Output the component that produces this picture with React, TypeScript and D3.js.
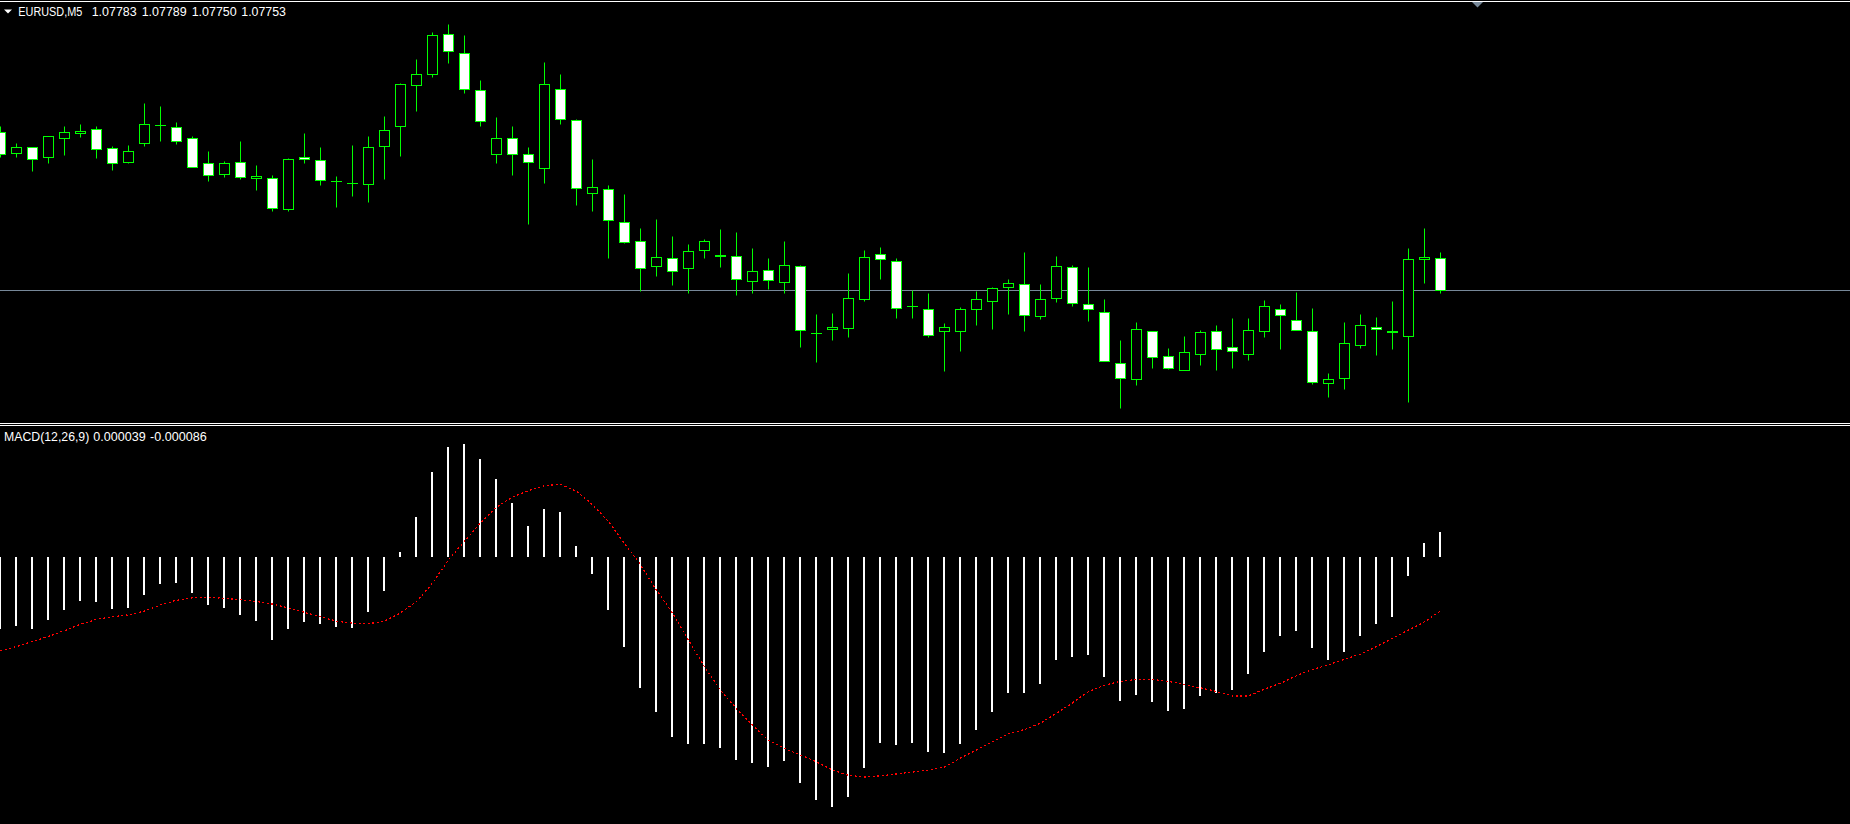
import React, { useEffect } from 'react';
import * as d3 from 'd3';

const W = 1850;
const H = 824;

const SYMBOL = 'EURUSD,M5';
const OHLC_LABELS = ['1.07783', '1.07789', '1.07750', '1.07753'];
const MACD_TITLE = 'MACD(12,26,9)';
const MACD_LABELS = ['0.000039', '-0.000086'];
const BID = 1.07753;

const open = [1.07901, 1.07882, 1.07887, 1.07878, 1.07896, 1.07900, 1.07904, 1.07886, 1.07873, 1.07891,
  1.07908, 1.07906, 1.07896, 1.07872, 1.07862, 1.07873, 1.07858, 1.07858, 1.07829, 1.07878,
  1.07875, 1.07855, 1.07854, 1.07853, 1.07888, 1.07907, 1.07945, 1.07956, 1.07993, 1.07975,
  1.07941, 1.07881, 1.07896, 1.07881, 1.07868, 1.07942, 1.07913, 1.07844, 1.07848, 1.07817,
  1.07799, 1.07776, 1.07783, 1.07774, 1.07791, 1.07786, 1.07785, 1.07762, 1.07772, 1.07761,
  1.07776, 1.07713, 1.07717, 1.07718, 1.07745, 1.07787, 1.07780, 1.07738, 1.07735, 1.07715,
  1.07715, 1.07735, 1.07743, 1.07756, 1.07759, 1.07729, 1.07746, 1.07775, 1.07740, 1.07733,
  1.07685, 1.07670, 1.07715, 1.07691, 1.07678, 1.07693, 1.07715, 1.07700, 1.07693, 1.07715,
  1.07735, 1.07725, 1.07715, 1.07666, 1.07671, 1.07702, 1.07719, 1.07715, 1.07710, 1.07782, 1.07783];
const high = [1.07907, 1.07891, 1.07887, 1.07898, 1.07907, 1.07909, 1.07907, 1.07888, 1.07889, 1.07929,
  1.07926, 1.07911, 1.07898, 1.07884, 1.07874, 1.07893, 1.07870, 1.07861, 1.07877, 1.07900,
  1.07887, 1.07860, 1.07889, 1.07898, 1.07916, 1.07947, 1.07970, 1.07995, 1.08003, 1.07992,
  1.07950, 1.07915, 1.07907, 1.07887, 1.07967, 1.07956, 1.07914, 1.07876, 1.07852, 1.07843,
  1.07811, 1.07820, 1.07804, 1.07796, 1.07801, 1.07810, 1.07808, 1.07793, 1.07783, 1.07799,
  1.07777, 1.07731, 1.07732, 1.07769, 1.07791, 1.07794, 1.07783, 1.07753, 1.07750, 1.07722,
  1.07737, 1.07752, 1.07756, 1.07764, 1.07789, 1.07759, 1.07785, 1.07777, 1.07775, 1.07745,
  1.07706, 1.07723, 1.07715, 1.07699, 1.07710, 1.07716, 1.07720, 1.07727, 1.07727, 1.07744,
  1.07740, 1.07751, 1.07736, 1.07675, 1.07723, 1.07731, 1.07728, 1.07743, 1.07793, 1.07811, 1.07789];
const low = [1.07878, 1.07878, 1.07865, 1.07872, 1.07880, 1.07897, 1.07877, 1.07866, 1.07872, 1.07888,
  1.07893, 1.07890, 1.07869, 1.07855, 1.07859, 1.07857, 1.07847, 1.07827, 1.07827, 1.07872,
  1.07852, 1.07831, 1.07841, 1.07836, 1.07857, 1.07879, 1.07921, 1.07953, 1.07966, 1.07938,
  1.07907, 1.07872, 1.07861, 1.07815, 1.07854, 1.07909, 1.07833, 1.07827, 1.07783, 1.07797,
  1.07752, 1.07766, 1.07758, 1.07750, 1.07783, 1.07775, 1.07749, 1.07750, 1.07754, 1.07750,
  1.07700, 1.07686, 1.07706, 1.07709, 1.07743, 1.07764, 1.07727, 1.07727, 1.07709, 1.07677,
  1.07696, 1.07720, 1.07717, 1.07731, 1.07715, 1.07726, 1.07742, 1.07738, 1.07724, 1.07687,
  1.07643, 1.07664, 1.07680, 1.07679, 1.07678, 1.07683, 1.07678, 1.07680, 1.07688, 1.07709,
  1.07698, 1.07716, 1.07665, 1.07653, 1.07660, 1.07699, 1.07692, 1.07698, 1.07648, 1.07760, 1.07750];
const close = [1.07881, 1.07887, 1.07876, 1.07898, 1.07901, 1.07902, 1.07885, 1.07872, 1.07884, 1.07909,
  1.07908, 1.07893, 1.07869, 1.07861, 1.07872, 1.07859, 1.07860, 1.07830, 1.07876, 1.07876,
  1.07856, 1.07855, 1.07854, 1.07887, 1.07903, 1.07946, 1.07956, 1.07992, 1.07977, 1.07942,
  1.07912, 1.07896, 1.07881, 1.07873, 1.07946, 1.07914, 1.07849, 1.07850, 1.07819, 1.07798,
  1.07774, 1.07784, 1.07771, 1.07790, 1.07799, 1.07785, 1.07764, 1.07771, 1.07763, 1.07777,
  1.07716, 1.07713, 1.07719, 1.07746, 1.07784, 1.07782, 1.07736, 1.07738, 1.07711, 1.07719,
  1.07735, 1.07745, 1.07755, 1.07760, 1.07730, 1.07745, 1.07776, 1.07741, 1.07735, 1.07687,
  1.07671, 1.07717, 1.07690, 1.07680, 1.07695, 1.07714, 1.07698, 1.07696, 1.07716, 1.07738,
  1.07730, 1.07716, 1.07667, 1.07670, 1.07704, 1.07720, 1.07717, 1.07714, 1.07782, 1.07784, 1.07753];

const macdMain = [-114e-6, -109e-6, -114e-6, -100e-6, -84e-6, -70e-6, -71e-6, -82e-6, -81e-6, -60e-6,
  -43e-6, -41e-6, -57e-6, -76e-6, -81e-6, -93e-6, -101e-6, -131e-6, -115e-6, -103e-6,
  -107e-6, -111e-6, -112e-6, -87e-6, -54e-6, 7e-6, 63e-6, 133e-6, 173e-6, 177e-6,
  154e-6, 123e-6, 85e-6, 49e-6, 75e-6, 71e-6, 17e-6, -27e-6, -84e-6, -142e-6,
  -207e-6, -246e-6, -284e-6, -296e-6, -295e-6, -302e-6, -321e-6, -325e-6, -332e-6, -322e-6,
  -357e-6, -384e-6, -395e-6, -379e-6, -333e-6, -294e-6, -297e-6, -294e-6, -308e-6, -310e-6,
  -295e-6, -273e-6, -246e-6, -216e-6, -215e-6, -201e-6, -163e-6, -158e-6, -156e-6, -190e-6,
  -228e-6, -218e-6, -229e-6, -243e-6, -240e-6, -220e-6, -215e-6, -210e-6, -186e-6, -150e-6,
  -126e-6, -117e-6, -145e-6, -164e-6, -150e-6, -126e-6, -107e-6, -95e-6, -30e-6, 22e-6, 39e-6];
const macdSignal = [-149e-6, -142e-6, -134e-6, -126e-6, -117e-6, -107e-6, -99e-6, -95e-6, -92e-6, -86e-6,
  -76e-6, -69e-6, -65e-6, -64e-6, -66e-6, -68e-6, -71e-6, -75e-6, -81e-6, -88e-6,
  -95e-6, -102e-6, -105e-6, -106e-6, -102e-6, -89e-6, -71e-6, -42e-6, -5e-6, 24e-6,
  53e-6, 78e-6, 94e-6, 104e-6, 112e-6, 114e-6, 103e-6, 82e-6, 55e-6, 21e-6,
  -13e-6, -53e-6, -89e-6, -132e-6, -174e-6, -211e-6, -240e-6, -266e-6, -290e-6, -303e-6,
  -313e-6, -324e-6, -337e-6, -345e-6, -348e-6, -346e-6, -343e-6, -340e-6, -337e-6, -332e-6,
  -318e-6, -305e-6, -292e-6, -279e-6, -273e-6, -263e-6, -247e-6, -231e-6, -213e-6, -203e-6,
  -197e-6, -194e-6, -194e-6, -197e-6, -202e-6, -207e-6, -213e-6, -220e-6, -220e-6, -209e-6,
  -200e-6, -188e-6, -178e-6, -171e-6, -162e-6, -154e-6, -142e-6, -129e-6, -116e-6, -103e-6, -86e-6];

const GREEN = '#00ff00';
const SLATE = '#778899';
const FONT = '"Liberation Sans", Arial, sans-serif';

export default function App() {
  useEffect(() => {
    document.body.style.margin = '0';
    document.body.style.overflow = 'hidden';
    document.body.style.background = '#000';
  }, []);

  const n = open.length;
  const x = d3.scaleLinear().domain([0, n - 1]).range([0.5, 16 * (n - 1) + 0.5]);
  const y = d3.scaleLinear().domain([1.076295, 1.080223]).range([422, 3]);
  const ym = d3.scaleLinear().domain([-0.000422, 0.000206]).range([824, 426]);
  const py = (p: number) => Math.round(y(p)) + 0.5;

  const signalPath = d3
    .line<number>()
    .x((_, i) => x(i))
    .y((v) => ym(v))(macdSignal) || '';

  const zeroY = Math.round(ym(0));

  return (
    <svg width={W} height={H} style={{ position: 'absolute', left: 0, top: 0, background: '#000' }}>
      <rect x={0} y={0} width={W} height={H} fill="#000" />
      {/* top border */}
      <line x1={0} x2={W} y1={1.5} y2={1.5} stroke="#fff" strokeWidth={1} />
      {/* bid line */}
      <line x1={0} x2={W} y1={py(BID)} y2={py(BID)} stroke={SLATE} strokeWidth={1} />
      {/* shift marker */}
      <polygon points="1472,2 1483,2 1477.5,7.5" fill={SLATE} />

      {/* candles */}
      {open.map((o, i) => {
        const c = close[i];
        const cx = x(i);
        const top = py(Math.max(o, c));
        const bot = py(Math.min(o, c));
        const bear = c < o;
        return (
          <g key={i}>
            <line x1={cx} x2={cx} y1={py(high[i])} y2={py(low[i])} stroke={GREEN} strokeWidth={1} />
            {bot - top < 1 ? (
              <line x1={cx - 5.5} x2={cx + 5.5} y1={top} y2={top} stroke={GREEN} strokeWidth={1} />
            ) : (
              <rect x={cx - 5} y={top} width={10} height={bot - top} fill={bear ? '#fff' : '#000'} stroke={GREEN} strokeWidth={1} />
            )}
          </g>
        );
      })}

      {/* separators */}
      <line x1={0} x2={W} y1={423.5} y2={423.5} stroke="#fff" strokeWidth={1} />
      <line x1={0} x2={W} y1={425.5} y2={425.5} stroke="#fff" strokeWidth={1} />

      {/* MACD histogram */}
      {macdMain.map((v, i) => {
        const yv = Math.round(ym(v));
        const y0 = Math.min(yv, zeroY);
        const h = Math.abs(yv - zeroY);
        return <rect key={i} x={x(i) - 1.5} y={y0} width={2} height={Math.max(h, 1)} fill="#fff" />;
      })}
      {/* signal */}
      <path d={signalPath} fill="none" stroke="#ff0000" strokeWidth={1.2} strokeDasharray="2 2.5" shapeRendering="crispEdges" />

      {/* labels */}
      <polygon points="4,9.5 12,9.5 8,13.5" fill="#fff" />
      <g fill="#fff" fontFamily={FONT} fontSize={12.5}>
        <text x={18.3} y={16} textLength={64} lengthAdjust="spacingAndGlyphs">{SYMBOL}</text>
        <text x={91.7} y={16} textLength={45} lengthAdjust="spacingAndGlyphs">{OHLC_LABELS[0]}</text>
        <text x={141.7} y={16} textLength={45} lengthAdjust="spacingAndGlyphs">{OHLC_LABELS[1]}</text>
        <text x={191.7} y={16} textLength={45} lengthAdjust="spacingAndGlyphs">{OHLC_LABELS[2]}</text>
        <text x={241.3} y={16} textLength={44.7} lengthAdjust="spacingAndGlyphs">{OHLC_LABELS[3]}</text>
        <text x={4} y={440.5} textLength={85.3} lengthAdjust="spacingAndGlyphs">{MACD_TITLE}</text>
        <text x={93.3} y={440.5} textLength={52.4} lengthAdjust="spacingAndGlyphs">{MACD_LABELS[0]}</text>
        <text x={150} y={440.5} textLength={56.7} lengthAdjust="spacingAndGlyphs">{MACD_LABELS[1]}</text>
      </g>
    </svg>
  );
}
